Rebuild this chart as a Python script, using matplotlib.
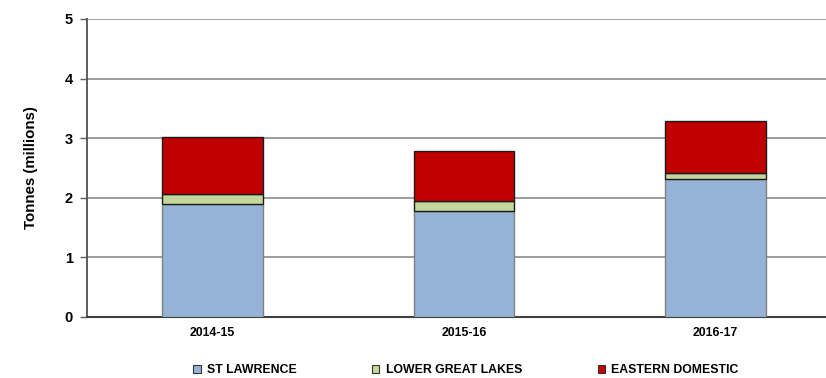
import numpy as np
import matplotlib.pyplot as plt
from matplotlib.patches import Patch

years = ['2014-15', '2015-16', '2016-17']
st_lawrence = [1.90, 1.78, 2.31]
lower_great_lakes = [0.16, 0.17, 0.11]
eastern_domestic = [0.96, 0.84, 0.87]

series_names = ['ST LAWRENCE', 'LOWER GREAT LAKES', 'EASTERN DOMESTIC']
fills = ['#95b3d7', '#c3d69b', '#c00000']
edges = ['#808080', '#1a1a1a', '#1a1a1a']

plt.rcParams['font.family'] = ['Liberation Sans', 'DejaVu Sans']
plt.rcParams['font.weight'] = 'bold'

fig = plt.figure(figsize=(8.26, 3.78), dpi=100)
ax = fig.add_axes([87 / 826, 61 / 378, 754 / 826, 298 / 378])

x = np.arange(len(years))
bottom = np.zeros(len(years))
for vals, fc, ec in zip([st_lawrence, lower_great_lakes, eastern_domestic], fills, edges):
    ax.bar(x, vals, width=0.4, bottom=bottom, color=fc, edgecolor=ec, linewidth=1.0, zorder=3)
    bottom = bottom + np.array(vals)

ax.set_xlim(-0.5, 2.5)
ax.set_ylim(0, 5)
ax.set_yticks(range(6))
ax.set_xticks(x)
ax.set_xticklabels(years, fontsize=8.8, fontweight='bold')
ax.tick_params(axis='y', labelsize=10.5, length=5, color='#606060', width=1, pad=5)
ax.tick_params(axis='x', length=0, pad=7)
ax.yaxis.grid(True, color='#8c8c8c', linewidth=1.2, zorder=0)
ax.set_axisbelow(True)
for side in ['top', 'right']:
    ax.spines[side].set_visible(False)
ax.spines['left'].set_color('#505050')
ax.spines['left'].set_linewidth(1.3)
ax.spines['bottom'].set_color('#404040')
ax.spines['bottom'].set_linewidth(1.5)
ax.set_ylabel('Tonnes (millions)', fontsize=10.8, fontweight='bold', labelpad=19)

handles = [Patch(facecolor=fc, edgecolor='#333333', linewidth=0.8) for fc in fills]
fig.legend(handles, series_names, loc='lower center', bbox_to_anchor=(0.564, -0.025), ncol=3,
           frameon=False, fontsize=8.8, handlelength=0.6, handleheight=0.6,
           handletextpad=0.5, columnspacing=6.2)

fig.savefig('out.png', dpi=100)
